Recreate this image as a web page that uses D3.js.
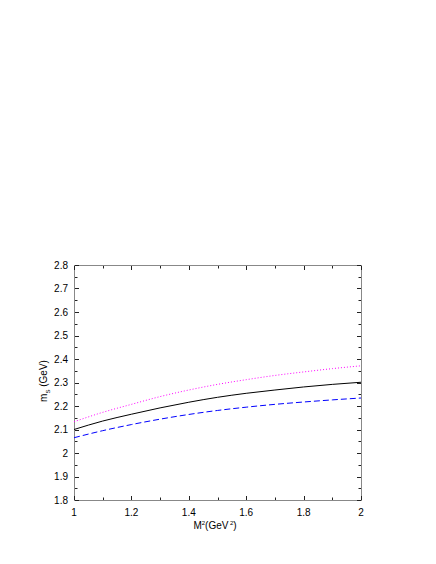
<!DOCTYPE html>
<html>
<head>
<meta charset="utf-8">
<script src="https://cdn.jsdelivr.net/npm/d3@7"></script>
<style>
  html, body { margin: 0; padding: 0; background: #fff; }
  svg { display: block; font-family: "Liberation Sans", Arial, Helvetica, sans-serif; }
</style>
</head>
<body>
<svg id="chart" width="436" height="564"></svg>
<script>
  // Borel mass squared M^2 (GeV^2)
  const m2Values = [1.0, 1.1, 1.2, 1.3, 1.4, 1.5, 1.6, 1.7, 1.8, 1.9, 2.0];
  // m_S (GeV) for the three curves
  const upperSeries = [2.133, 2.173, 2.207, 2.240, 2.268, 2.292, 2.312, 2.330, 2.345, 2.359, 2.371];
  const centralSeries = [2.100, 2.136, 2.165, 2.192, 2.216, 2.237, 2.254, 2.268, 2.281, 2.292, 2.301];
  const lowerSeries = [2.065, 2.095, 2.121, 2.144, 2.164, 2.181, 2.195, 2.207, 2.217, 2.226, 2.234];
  const xTickLabels = [1, 1.2, 1.4, 1.6, 1.8, 2];
  const yTickLabels = [1.8, 1.9, 2, 2.1, 2.2, 2.3, 2.4, 2.5, 2.6, 2.7, 2.8];

  (function () {
    const svg = d3.select('#chart');
    const plotLeft = 74, plotRight = 361, plotTop = 265, plotBottom = 500;

    const x = d3.scaleLinear().domain([1, 2]).range([plotLeft, plotRight]);
    const y = d3.scaleLinear().domain([1.8, 2.8]).range([plotBottom, plotTop]);

    const fmt = (d) => String(+d.toFixed(2));

    // frame
    svg.append('rect')
      .attr('x', plotLeft + 0.5).attr('y', plotTop + 0.5)
      .attr('width', plotRight - plotLeft).attr('height', plotBottom - plotTop)
      .attr('fill', 'none').attr('stroke', '#888').attr('stroke-width', 1);

    const xMinor = d3.range(1, 2.001, 0.1);
    const yMinor = d3.range(1.8, 2.801, 0.05);

    const tickGroup = svg.append('g').attr('stroke', '#222').attr('stroke-width', 1);
    xMinor.forEach((v, i) => {
      const len = i % 2 === 0 ? 4 : 2.5;
      const px = Math.round(x(v)) + 0.5;
      tickGroup.append('line').attr('x1', px).attr('x2', px).attr('y1', plotBottom).attr('y2', plotBottom - len);
      tickGroup.append('line').attr('x1', px).attr('x2', px).attr('y1', plotTop + 1).attr('y2', plotTop + 1 + len);
    });
    yMinor.forEach((v, i) => {
      const len = i % 2 === 0 ? 4 : 2.5;
      const py = Math.round(y(v)) + 0.5;
      tickGroup.append('line').attr('x1', plotLeft + 1).attr('x2', plotLeft + 1 + len).attr('y1', py).attr('y2', py);
      tickGroup.append('line').attr('x1', plotRight).attr('x2', plotRight - len).attr('y1', py).attr('y2', py);
    });

    svg.append('g').selectAll('text').data(xTickLabels).enter().append('text')
      .attr('x', (d) => x(d)).attr('y', plotBottom + 16)
      .attr('text-anchor', 'middle').attr('font-size', 10).attr('fill', '#000')
      .text(fmt);

    svg.append('g').selectAll('text').data(yTickLabels).enter().append('text')
      .attr('x', plotLeft - 6).attr('y', (d) => y(d) + 3.5)
      .attr('text-anchor', 'end').attr('font-size', 10).attr('fill', '#000')
      .text(fmt);

    // axis titles
    const xt = svg.append('text').attr('x', 215).attr('y', 529)
      .attr('text-anchor', 'middle').attr('font-size', 10).attr('fill', '#000');
    xt.append('tspan').text('M');
    xt.append('tspan').attr('font-size', 6).attr('dy', -4).text('2');
    xt.append('tspan').attr('dy', 4).text('(GeV');
    xt.append('tspan').attr('font-size', 6).attr('dy', -4).attr('dx', 1.5).text('2');
    xt.append('tspan').attr('dy', 4).text(')');

    const yt = svg.append('text')
      .attr('transform', 'translate(47,381) rotate(-90)')
      .attr('text-anchor', 'middle').attr('font-size', 10).attr('fill', '#000');
    yt.append('tspan').text('m');
    yt.append('tspan').attr('font-size', 6).attr('dy', 3).text('S');
    yt.append('tspan').attr('dy', -3).text(' (GeV)');

    const line = d3.line().x((d) => x(d[0])).y((d) => y(d[1])).curve(d3.curveMonotoneX);
    const curves = [
      { values: upperSeries, color: '#ff00ff', dash: '1,2' },
      { values: centralSeries, color: '#000', dash: null },
      { values: lowerSeries, color: '#0000ff', dash: '6,3' }
    ];
    curves.forEach((c) => {
      svg.append('path')
        .datum(m2Values.map((m, i) => [m, c.values[i]]))
        .attr('d', line)
        .attr('fill', 'none')
        .attr('stroke', c.color)
        .attr('stroke-width', 1)
        .attr('stroke-dasharray', c.dash);
    });
  })();
</script>
</body>
</html>
